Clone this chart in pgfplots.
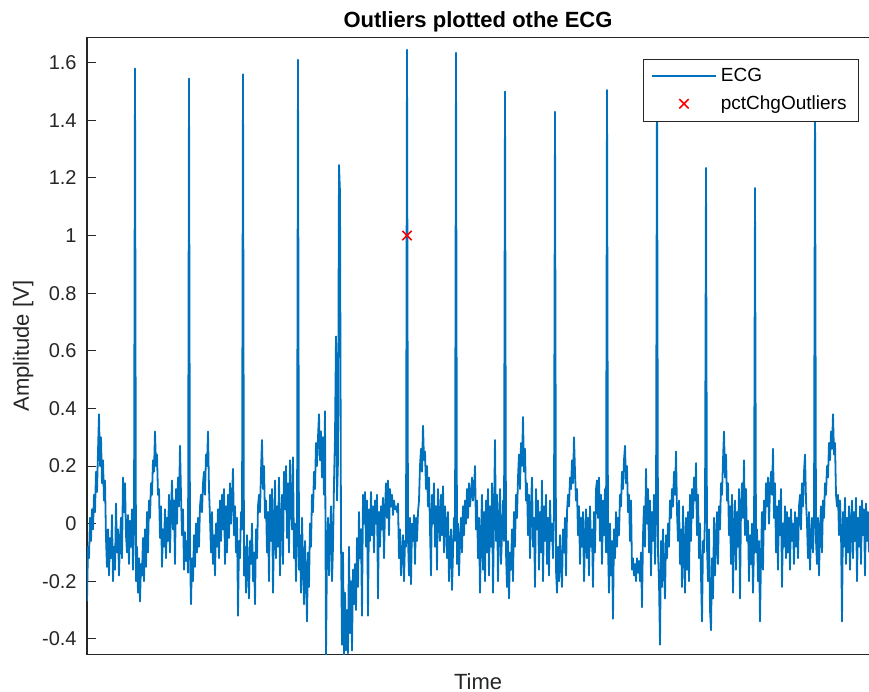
\documentclass[border=0pt]{standalone}
\usepackage{fontspec}
\setmainfont{Liberation Sans}
\usepackage{pgfplots}
\usepackage{pgfplotstable}
\pgfplotsset{compat=1.18}
\definecolor{ecgblue}{RGB}{0,114,189}
\definecolor{axgray}{RGB}{38,38,38}
\pgfplotsset{
  lineleg/.style={legend image code/.code={\draw[##1] (0bp,0bp) -- (32bp,0bp);}},
  markleg/.style={legend image code/.code={\draw[##1] plot coordinates {(16bp,0bp)};}},
}
\pgfplotstableread[row sep=\\,header=false]{
-0.27\\-0.08\\-0.12\\0.02\\-0.06\\0.05\\-0.02\\0.10\\0.04\\0.18\\0.11\\0.25\\0.38\\0.20\\0.30\\0.14\\0.22\\0.08\\0.15\\-0.05\\
-0.15\\-0.02\\-0.18\\-0.05\\-0.12\\0.03\\-0.20\\-0.08\\-0.16\\0.07\\-0.10\\-0.02\\-0.18\\-0.06\\0.02\\-0.12\\0.16\\0.04\\0.14\\-0.04\\
-0.10\\0.03\\-0.14\\0.01\\-0.08\\0.05\\-0.16\\-0.02\\1.58\\-0.20\\-0.08\\-0.24\\-0.12\\-0.27\\-0.14\\-0.18\\-0.05\\-0.20\\-0.02\\-0.15\\
0.04\\-0.10\\0.08\\0.02\\0.14\\0.10\\0.22\\0.18\\0.32\\0.20\\0.24\\0.10\\0.12\\-0.05\\0.06\\-0.15\\-0.02\\-0.08\\0.05\\-0.12\\
0.02\\-0.06\\0.10\\-0.10\\0.04\\0.15\\-0.02\\0.08\\-0.14\\0.12\\0.00\\0.16\\0.06\\0.27\\0.10\\-0.04\\0.05\\-0.16\\-0.03\\-0.13\\
-0.06\\-0.17\\1.545\\-0.10\\-0.28\\-0.12\\-0.20\\-0.04\\-0.15\\0.00\\-0.10\\0.02\\-0.08\\0.06\\0.10\\0.04\\0.14\\0.18\\0.10\\0.24\\
0.20\\0.32\\0.12\\0.02\\-0.10\\0.04\\-0.14\\-0.04\\-0.18\\0.00\\-0.08\\0.05\\-0.12\\0.08\\-0.06\\0.10\\-0.02\\0.12\\-0.14\\0.06\\
-0.10\\0.10\\-0.05\\0.14\\0.00\\0.08\\0.19\\-0.04\\0.06\\-0.10\\0.02\\-0.32\\-0.06\\-0.12\\0.04\\-0.02\\1.56\\-0.18\\-0.08\\-0.24\\
-0.04\\-0.16\\-0.26\\-0.06\\-0.14\\0.00\\-0.20\\-0.10\\-0.28\\-0.02\\-0.12\\0.06\\0.10\\0.04\\0.18\\0.29\\0.12\\0.20\\0.02\\0.08\\
-0.10\\0.04\\-0.20\\0.10\\-0.06\\0.12\\-0.24\\-0.02\\0.15\\-0.12\\0.06\\-0.08\\0.16\\-0.18\\0.02\\0.10\\-0.14\\0.18\\0.05\\0.20\\
-0.05\\0.14\\-0.10\\0.22\\0.08\\-0.02\\0.23\\-0.12\\0.00\\-0.20\\-0.06\\1.61\\-0.16\\-0.04\\-0.24\\0.02\\-0.14\\-0.28\\-0.06\\-0.18\\
-0.34\\-0.10\\-0.22\\0.00\\-0.08\\0.10\\0.04\\0.18\\0.12\\0.28\\0.20\\0.30\\0.38\\0.22\\0.32\\0.16\\0.30\\0.10\\0.39\\-0.46\\
-0.10\\0.02\\-0.18\\-0.04\\0.06\\-0.20\\-0.08\\0.14\\0.30\\0.65\\0.08\\0.22\\1.245\\1.15\\-0.05\\-0.42\\-0.10\\-0.46\\-0.24\\-0.44\\
-0.30\\-0.45\\-0.08\\-0.38\\-0.20\\-0.44\\-0.16\\-0.28\\-0.14\\-0.30\\-0.05\\-0.22\\0.04\\-0.12\\-0.02\\-0.32\\0.10\\0.00\\0.11\\-0.08\\
0.08\\-0.32\\0.05\\-0.06\\0.11\\-0.04\\0.06\\-0.10\\0.08\\0.00\\0.10\\-0.26\\0.04\\-0.08\\0.06\\-0.02\\0.09\\-0.12\\0.05\\0.14\\
0.02\\0.15\\-0.04\\0.12\\0.06\\0.10\\0.03\\0.08\\0.05\\0.06\\0.04\\0.07\\-0.12\\-0.02\\-0.18\\-0.10\\-0.04\\-0.20\\-0.06\\-0.08\\
1.645\\-0.05\\-0.18\\0.02\\-0.21\\0.00\\-0.06\\0.03\\-0.14\\0.02\\-0.06\\0.04\\0.08\\0.20\\0.26\\0.18\\0.34\\0.22\\0.25\\0.12\\
0.20\\0.06\\0.16\\-0.02\\-0.18\\0.10\\0.00\\0.14\\-0.08\\0.06\\-0.16\\0.12\\0.02\\-0.06\\0.10\\-0.04\\0.13\\-0.10\\0.06\\0.00\\
-0.12\\0.04\\-0.20\\-0.08\\-0.02\\-0.23\\-0.10\\0.02\\-0.06\\1.635\\-0.14\\0.00\\-0.18\\-0.06\\0.02\\-0.10\\0.06\\-0.04\\0.08\\0.00\\
0.12\\0.02\\0.14\\0.06\\0.10\\0.16\\0.08\\0.12\\0.20\\-0.02\\0.08\\-0.12\\0.02\\-0.24\\-0.04\\0.10\\-0.16\\0.04\\-0.20\\0.08\\
-0.10\\0.12\\-0.18\\0.06\\-0.08\\0.14\\-0.24\\0.02\\0.29\\-0.06\\0.10\\-0.20\\0.00\\0.12\\-0.14\\-0.04\\0.08\\-0.06\\1.50\\-0.10\\
-0.22\\-0.06\\-0.26\\-0.10\\-0.16\\-0.02\\-0.20\\0.04\\-0.08\\0.10\\0.02\\0.16\\0.24\\0.12\\0.28\\0.20\\0.37\\0.18\\0.26\\0.08\\
0.14\\-0.04\\0.10\\-0.12\\0.06\\0.16\\-0.08\\0.02\\-0.22\\0.12\\-0.02\\0.08\\-0.16\\0.04\\-0.10\\0.15\\-0.20\\0.06\\-0.06\\0.10\\
-0.14\\0.02\\-0.18\\0.08\\-0.06\\0.00\\-0.12\\0.04\\1.43\\-0.16\\-0.24\\-0.08\\-0.20\\-0.04\\-0.14\\-0.22\\-0.02\\-0.10\\0.02\\-0.18\\
0.04\\0.10\\0.06\\0.16\\0.12\\0.22\\0.14\\0.30\\0.18\\0.08\\0.12\\-0.04\\0.06\\-0.14\\0.02\\-0.08\\0.04\\-0.20\\-0.06\\0.05\\
-0.12\\0.02\\-0.18\\0.06\\-0.08\\-0.02\\-0.22\\0.04\\-0.10\\0.12\\0.15\\0.02\\0.16\\-0.06\\0.10\\-0.14\\0.08\\-0.04\\0.12\\-0.10\\
1.505\\-0.08\\-0.24\\0.00\\-0.18\\-0.06\\-0.33\\-0.02\\-0.12\\0.04\\-0.08\\0.02\\-0.04\\0.10\\0.06\\0.18\\0.12\\0.22\\0.27\\0.14\\
0.20\\0.04\\0.10\\-0.06\\0.08\\-0.16\\-0.12\\-0.18\\-0.14\\-0.20\\-0.12\\-0.17\\-0.13\\-0.20\\-0.10\\-0.29\\-0.04\\0.06\\-0.08\\0.19\\
0.00\\0.12\\-0.10\\0.08\\-0.18\\0.04\\-0.06\\0.10\\-0.14\\0.02\\1.55\\-0.10\\-0.20\\-0.42\\-0.06\\-0.22\\-0.02\\-0.16\\-0.26\\-0.04\\
-0.12\\0.00\\-0.08\\0.08\\0.02\\0.12\\0.06\\0.18\\0.10\\0.25\\0.04\\-0.06\\0.08\\-0.14\\-0.02\\-0.22\\0.06\\-0.10\\-0.24\\0.02\\
-0.16\\0.04\\-0.20\\0.10\\-0.06\\0.12\\0.02\\0.16\\0.08\\0.21\\-0.04\\0.10\\-0.12\\0.00\\-0.18\\-0.34\\-0.06\\-0.10\\0.02\\1.235\\
-0.08\\-0.20\\-0.02\\-0.30\\-0.37\\-0.12\\-0.26\\0.02\\-0.18\\-0.06\\0.04\\-0.14\\0.06\\-0.02\\0.14\\0.10\\0.22\\0.32\\0.16\\0.24\\
0.08\\0.14\\-0.04\\0.06\\-0.14\\0.10\\-0.24\\-0.02\\0.08\\-0.16\\0.04\\-0.08\\0.12\\-0.26\\0.06\\0.14\\0.02\\0.22\\-0.04\\0.12\\
-0.06\\0.01\\-0.20\\-0.04\\-0.14\\0.00\\-0.24\\-0.08\\1.165\\-0.10\\-0.02\\-0.20\\-0.06\\-0.34\\-0.12\\0.04\\-0.16\\0.08\\-0.02\\0.14\\
0.06\\0.16\\0.00\\0.12\\0.18\\0.10\\0.26\\0.02\\0.14\\-0.10\\0.06\\-0.16\\0.08\\-0.04\\0.12\\-0.22\\0.00\\-0.08\\0.06\\-0.12\\
0.04\\-0.10\\0.02\\-0.16\\0.05\\-0.06\\0.00\\-0.14\\0.04\\-0.08\\0.02\\-0.12\\0.06\\0.10\\-0.02\\0.14\\0.06\\0.18\\0.24\\0.08\\
0.00\\-0.12\\0.04\\-0.16\\-0.04\\0.02\\-0.10\\0.00\\1.50\\-0.06\\-0.14\\0.02\\-0.18\\-0.02\\0.06\\-0.10\\0.08\\0.02\\0.14\\0.10\\
0.20\\0.16\\0.28\\0.22\\0.32\\0.26\\0.38\\0.24\\0.28\\0.10\\0.06\\0.10\\-0.04\\0.08\\-0.02\\-0.34\\0.04\\-0.08\\0.09\\-0.14\\
0.02\\-0.10\\0.06\\-0.16\\0.00\\0.08\\-0.12\\0.04\\-0.06\\0.09\\-0.20\\0.02\\-0.08\\0.06\\-0.14\\0.08\\-0.04\\0.05\\-0.18\\0.07\\
-0.06\\0.04\\-0.10\\
}\ecgdata
\begin{document}
\begin{tikzpicture}
\begin{axis}[
  width=393bp, height=308.5bp, scale only axis,
  xmin=0, xmax=786, ymin=-0.455, ymax=1.687,
  xtick=\empty,
  ytick={-0.4,-0.2,0,0.2,0.4,0.6,0.8,1,1.2,1.4,1.6},
  ytick pos=left, tick align=inside,
  major tick length=4.5bp,
  tick style={color=axgray, line width=0.5bp},
  axis line style={color=axgray, line width=0.6bp},
  /pgf/number format/assume math mode=true,
  yticklabel style={font=\fontsize{10bp}{12bp}\selectfont, text=axgray, inner sep=0pt, xshift=-5bp},
  title={Outliers plotted othe ECG},
  title style={font=\bfseries\fontsize{11bp}{13bp}\selectfont, at={(axis description cs:0.4975,1)}, anchor=base, yshift=-1bp},
  xlabel={Time},
  xlabel style={font=\fontsize{11bp}{13bp}\selectfont, text=axgray, at={(axis description cs:0.4975,0)}, anchor=base, yshift=-17.2bp},
  ylabel={Amplitude [V]},
  ylabel style={font=\fontsize{11bp}{13bp}\selectfont, text=axgray, at={(axis description cs:-0.0738,0.5)}, anchor=base},
  legend cell align=left,
  legend style={at={(axis description cs:0.9822,0.966)}, anchor=north east, draw=axgray, line width=0.5bp, fill=white,
    font=\fontsize{9.5bp}{11bp}\selectfont, inner xsep=4bp, inner ysep=2.5bp, row sep=1.5bp},
]
\addplot[color=ecgblue, line width=0.9bp, line join=round, lineleg]
  table[x expr=\coordindex, y index=0] {\ecgdata};
\addlegendentry{ECG}
\addplot[only marks, mark=x, color=red, mark size=3.3bp, line width=0.8bp, markleg]
  coordinates {(320,1.0)};
\addlegendentry{pctChgOutliers}
\end{axis}
\pgfresetboundingbox
\path[use as bounding box] ([xshift=-43.5bp,yshift=-18.65bp]current axis.south west) rectangle ([xshift=-2bp,yshift=18.85bp]current axis.north east);
\end{tikzpicture}
\end{document}
